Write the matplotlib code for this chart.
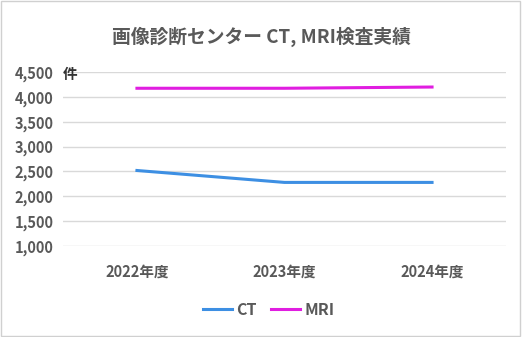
import matplotlib.pyplot as plt
from matplotlib.ticker import FuncFormatter

plt.rcParams['font.family'] = ['Noto Sans CJK JP', 'DejaVu Sans']

years = ["2022年度", "2023年度", "2024年度"]
ct = [2520, 2280, 2280]
mri = [4175, 4175, 4200]

fig = plt.figure(figsize=(5.22, 3.37), dpi=100)
fig.patches.append(plt.Rectangle((0.002, 0.003), 0.995, 0.994, transform=fig.transFigure,
                                 fill=False, edgecolor="#d0d0d0", linewidth=1))
ax = fig.add_axes([0.121, 0.270, 0.848, 0.516])

x = range(len(years))
ax.plot(x, ct, color="#3d8fe3", linewidth=2.2, label="CT")
ax.plot(x, mri, color="#e01ee0", linewidth=2.2, label="MRI")

ax.set_xlim(-0.5, 2.5)
ax.set_ylim(1000, 4500)
ax.set_yticks(range(1000, 4501, 500))
ax.yaxis.set_major_formatter(FuncFormatter(lambda v, p: f"{int(v):,}"))
ax.set_xticks(list(x))
ax.set_xticklabels(years)
ax.grid(axis="y", color="#d9d9d9", linewidth=1)
ax.set_axisbelow(True)
for s in ax.spines.values():
    s.set_visible(False)
ax.tick_params(length=0, colors="#595959", labelsize=10.5)
ax.tick_params(axis="x", pad=13)
ax.tick_params(axis="y", pad=7)
for lab in ax.get_xticklabels() + ax.get_yticklabels():
    lab.set_fontweight("bold")

ax.text(0.0, 0.99, "件", transform=ax.transAxes, fontsize=10.5, fontweight="bold",
        color="#333333", ha="left", va="center")

fig.text(0.5, 0.89, "画像診断センター CT, MRI検査実績", ha="center", va="center",
         fontsize=13.5, fontweight="bold", color="#595959")

fig.legend(loc="center", bbox_to_anchor=(0.515, 0.08), ncol=2, frameon=False,
           handlelength=1.8, columnspacing=0.9, handletextpad=0.3,
           labelcolor="#595959", prop={"weight": "bold", "size": 11.5})

fig.savefig("out.png", dpi=100)
